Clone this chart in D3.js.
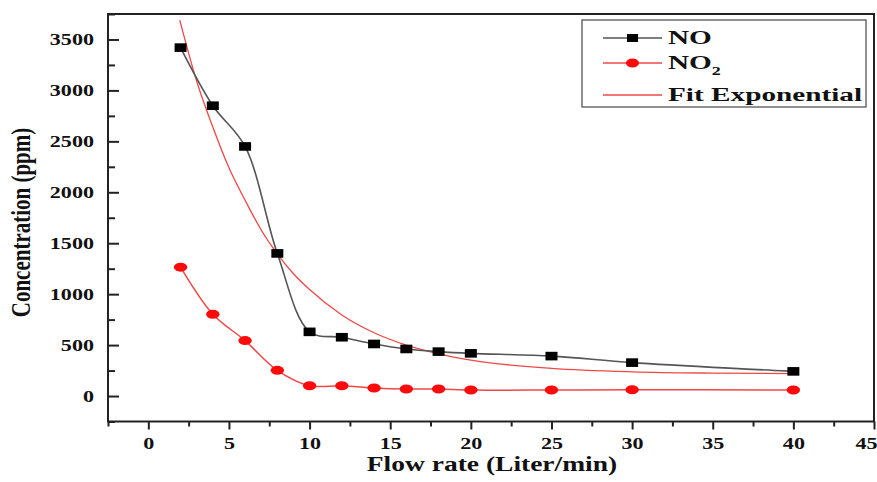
<!DOCTYPE html>
<html>
<head>
<meta charset="utf-8">
<script src="https://cdn.jsdelivr.net/npm/d3@7"></script>
<style>
  body { margin: 0; background: #fff; }
  svg { display: block; }
  text { font-family: "Liberation Serif", "Times New Roman", serif; font-weight: bold; fill: #111; }
</style>
</head>
<body>
<svg id="chart" width="877" height="482"></svg>
<script>
// values
const flowRate = [2, 4, 6, 8, 10, 12, 14, 16, 18, 20, 25, 30, 40];
const noValues = [3420, 2850, 2450, 1400, 630, 577, 511, 462, 436, 419, 392, 328, 242];
const no2Values = [1265, 803, 544, 252, 101, 101, 79, 69, 69, 59, 59, 62, 59];

// fit curve, read at points along the thin red line
const fitX = [1.95, 3, 4, 5, 6, 7, 8, 9, 10, 12, 14, 16, 18, 20, 25, 30, 35, 40];
const fitY = [3690, 3090, 2640, 2240, 1922, 1630, 1395, 1200, 1045, 796, 621, 499, 414, 352, 272, 238, 225, 220];

const xTicks = [0, 5, 10, 15, 20, 25, 30, 35, 40, 45];
const yTicks = [0, 500, 1000, 1500, 2000, 2500, 3000, 3500];

const legendLabels = ["NO", "NO2", "Fit Exponential"];

const svg = d3.select("#chart");

const x = d3.scaleLinear().domain([-2.5, 45]).range([108, 874]);
const y = d3.scaleLinear().domain([-250, 3750]).range([421.5, 14]);

// the source image is stretched sideways, so text is too
const stretch = function(sel, sx, dx, dy) {
  sel.attr("x", 0).attr("y", 0)
    .attr("transform", "translate(" + dx + "," + dy + ") scale(" + sx + ",1)");
};

// minor ticks first
const xMinor = d3.range(-2.5, 45.1, 2.5).filter(v => v % 5 !== 0);
const yMinor = d3.range(-250, 3751, 250).filter(v => v % 500 !== 0);

svg.append("g")
  .attr("transform", "translate(0," + y.range()[0] + ")")
  .call(d3.axisBottom(x).tickValues(xMinor).tickSize(5).tickFormat(""))
  .call(g => g.select(".domain").remove())
  .selectAll("line").attr("stroke", "#222").attr("stroke-width", 2);

svg.append("g")
  .attr("transform", "translate(" + x.range()[0] + ",0)")
  .call(d3.axisLeft(y).tickValues(yMinor).tickSize(-7).tickFormat(""))
  .call(g => g.select(".domain").remove())
  .selectAll("line").attr("stroke", "#222").attr("stroke-width", 2);

// major ticks
const xAxis = svg.append("g")
  .attr("transform", "translate(0," + y.range()[0] + ")")
  .call(d3.axisBottom(x).tickValues(xTicks).tickSize(8).tickPadding(7).tickFormat(d3.format("d")));
xAxis.select(".domain").remove();
xAxis.selectAll("line").attr("stroke", "#222").attr("stroke-width", 2);
xAxis.selectAll("text")
  .attr("font-size", 17)
  .attr("font-family", null)
  .each(function(d) {
    // last label sits on the right edge, keep it inside the page
    if (d === 45) d3.select(this).attr("text-anchor", "end");
    stretch(d3.select(this), 1.3, d === 45 ? 3 : 0, 15);
  });

const yAxis = svg.append("g")
  .attr("transform", "translate(" + x.range()[0] + ",0)")
  .call(d3.axisLeft(y).tickValues(yTicks).tickSize(-11).tickPadding(14).tickFormat(d3.format("d")));
yAxis.select(".domain").remove();
yAxis.selectAll("line").attr("stroke", "#222").attr("stroke-width", 2);
yAxis.selectAll("text")
  .attr("font-size", 17)
  .attr("font-family", null)
  .each(function() { stretch(d3.select(this), 1.3, -14, 0); });

// frame
svg.append("rect")
  .attr("x", x.range()[0])
  .attr("y", y.range()[1])
  .attr("width", x.range()[1] - x.range()[0])
  .attr("height", y.range()[0] - y.range()[1])
  .attr("fill", "none")
  .attr("stroke", "#222")
  .attr("stroke-width", 2);

// axis titles
svg.append("text")
  .attr("font-size", 22)
  .attr("text-anchor", "middle")
  .attr("transform", "translate(492,471) scale(1.25,1)")
  .text("Flow rate (Liter/min)");

svg.append("text")
  .attr("font-size", 21)
  .attr("text-anchor", "middle")
  .attr("transform", "translate(29.5,222.5) scale(1.3,1) rotate(-90)")
  .text("Concentration (ppm)");

// lines
const lineNo = d3.line()
  .x((d, i) => x(flowRate[i]))
  .y(d => y(d))
  .curve(d3.curveCatmullRom.alpha(0.5));

const lineFit = d3.line()
  .x((d, i) => x(fitX[i]))
  .y(d => y(d))
  .curve(d3.curveMonotoneX);

svg.append("path")
  .attr("d", lineFit(fitY))
  .attr("fill", "none")
  .attr("stroke", "#f04848")
  .attr("stroke-width", 1.3);

svg.append("path")
  .attr("d", lineNo(noValues))
  .attr("fill", "none")
  .attr("stroke", "#555")
  .attr("stroke-width", 1.6);

svg.append("path")
  .attr("d", lineNo(no2Values))
  .attr("fill", "none")
  .attr("stroke", "#f04848")
  .attr("stroke-width", 1.5);

// markers
svg.append("g")
  .selectAll("rect")
  .data(noValues)
  .join("rect")
  .attr("x", (d, i) => x(flowRate[i]) - 6)
  .attr("y", d => y(d) - 4.3)
  .attr("width", 12)
  .attr("height", 8.6)
  .attr("fill", "#000");

svg.append("g")
  .selectAll("ellipse")
  .data(no2Values)
  .join("ellipse")
  .attr("cx", (d, i) => x(flowRate[i]))
  .attr("cy", d => y(d))
  .attr("rx", 6.7)
  .attr("ry", 4.5)
  .attr("fill", "#ff0a0a");

// legend
const legend = svg.append("g");
legend.append("rect")
  .attr("x", 582)
  .attr("y", 20)
  .attr("width", 284)
  .attr("height", 87)
  .attr("fill", "#fff")
  .attr("stroke", "#555")
  .attr("stroke-width", 1.3);

const rowY = [38, 63, 95];
const rowColor = ["#555", "#f04848", "#f04848"];

legend.selectAll("line.key")
  .data(legendLabels)
  .join("line")
  .attr("class", "key")
  .attr("x1", 603)
  .attr("x2", 662)
  .attr("y1", (d, i) => rowY[i])
  .attr("y2", (d, i) => rowY[i])
  .attr("stroke", (d, i) => rowColor[i])
  .attr("stroke-width", 1.4);

legend.append("rect")
  .attr("x", 632.5 - 5.5)
  .attr("y", rowY[0] - 4)
  .attr("width", 11)
  .attr("height", 8)
  .attr("fill", "#000");

legend.append("ellipse")
  .attr("cx", 632.5)
  .attr("cy", rowY[1])
  .attr("rx", 6.5)
  .attr("ry", 4.5)
  .attr("fill", "#ff0a0a");

legend.selectAll("text")
  .data(legendLabels)
  .join("text")
  .attr("font-size", 19.5)
  .attr("dy", "0.33em")
  .attr("transform", (d, i) => "translate(668," + rowY[i] + ") scale(1.5,1)")
  .each(function(d) {
    const t = d3.select(this);
    if (d === "NO2") {
      t.append("tspan").text("NO");
      t.append("tspan").attr("font-size", 12).attr("dy", "0.45em").text("2");
    } else {
      t.text(d);
    }
  });
</script>
</body>
</html>
